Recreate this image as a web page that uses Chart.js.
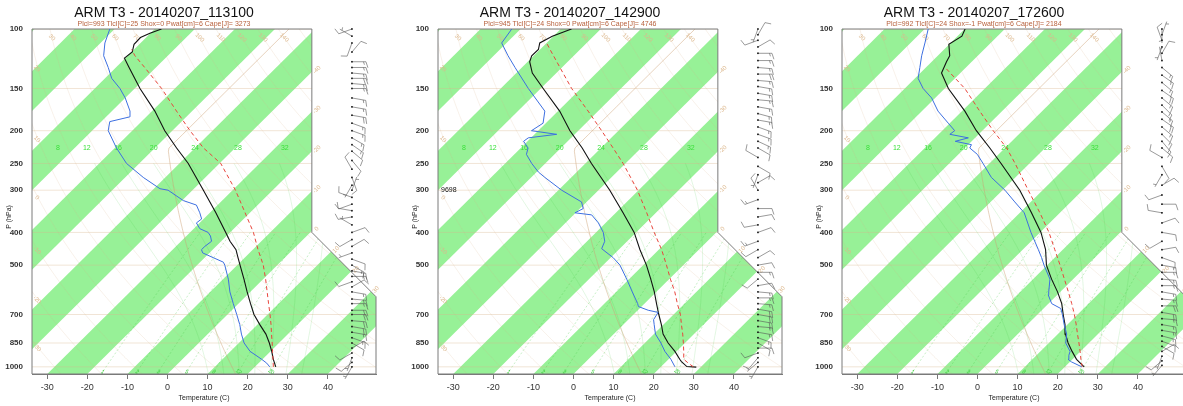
<!DOCTYPE html>
<html>
<head>
<meta charset="utf-8">
<script src="https://cdn.jsdelivr.net/npm/chart.js@4.4.1/dist/chart.umd.min.js"></script>
<style>
body { margin: 0; background: #fff; width: 1183px; height: 406px; overflow: hidden; position: relative; }
canvas { position: absolute; top: 0; }
</style>
</head>
<body>
<canvas id="c1" width="395" height="406" style="left:0px"></canvas>
<canvas id="c2" width="395" height="406" style="left:406px"></canvas>
<canvas id="c3" width="395" height="406" style="left:810px"></canvas>
<script>
// axis ticks
var pTicks = [100, 150, 200, 250, 300, 400, 500, 700, 850, 1000];
var tTicks = [-30, -20, -10, 0, 10, 20, 30, 40];
var mixLines = [1, 2, 3, 5, 8, 12, 20];
var moistLines = [8, 12, 16, 20, 24, 28, 32];
// where the moist adiabat labels sit at 225 hPa (deg C)
var moistLabelT = [-84.2, -77.0, -69.2, -60.3, -50.0, -39.3, -27.6];

var titles = ['ARM T3 - 20140207_113100', 'ARM T3 - 20140207_142900', 'ARM T3 - 20140207_172600'];
var subtitles = ['Plcl=993 Tlcl[C]=25 Shox=0 Pwat[cm]=6 Cape[J]= 3273',
                 'Plcl=945 Tlcl[C]=24 Shox=0 Pwat[cm]=6 Cape[J]= 4746',
                 'Plcl=992 Tlcl[C]=24 Shox=-1 Pwat[cm]=6 Cape[J]= 2184'];

// sounding 1 (11:31)
var tempP1 = [1000,950,900,850,800,750,700,650,600,550,500,475,450,425,400,350,300,250,225,200,175,150,130,122,117,111,106,103,100];
var tempT1 = [25.2,22.7,20.3,17.6,14.5,10.6,6.6,3.0,-0.8,-4.8,-9.3,-11.7,-14.2,-17.8,-21.1,-28.5,-37.3,-47.8,-54.6,-61.9,-69.3,-78.7,-86.7,-90.2,-89.8,-91.3,-91.4,-90.1,-88.3];
var dewP1 = [1000,975,950,925,900,850,800,750,700,650,600,550,500,490,475,460,450,440,425,410,400,390,375,365,350,332,322,300,297,275,250,225,200,188,182,175,160,150,140,130,120,110,100];
var dewT1 = [23.7,22.0,19.8,17.4,14.9,11.3,8.4,5.6,2.3,-1.3,-5.1,-8.7,-13.1,-14.2,-17.9,-21.7,-22.8,-22.8,-22.4,-24.0,-25.5,-28.5,-30.8,-30.5,-32.5,-35.3,-39.7,-46.1,-48.5,-55.5,-63.2,-69.6,-76.0,-77.9,-74.1,-75.5,-80.0,-83.7,-88.3,-91.9,-96.0,-98.9,-101.2];
var parcelP1 = [1000,950,900,850,800,750,700,650,600,550,500,450,400,350,300,250,225,200,175,150,130,120,115];
var parcelT1 = [24.6,22.6,20.5,18.3,15.9,13.4,10.6,7.5,4.2,0.6,-3.5,-8.7,-14.2,-21.2,-29.3,-39.7,-47.9,-55.6,-63.9,-73.3,-82.8,-88.2,-90.6];
var windP1 = [100,105,110,117,125,130,135,140,145,150,160,170,180,190,200,210,220,230,245,260,275,290,300,315,330,345,360,380,400,420,440,460,480,500,520,540,560,580,600,630,650,680,700,730,760,790,820,850,880,910,940,970,1000];
var windDir1 = [250,300,200,40,90,90,95,90,95,90,100,100,100,110,110,120,125,130,140,330,160,210,20,290,250,280,260,300,70,240,60,250,110,120,100,90,250,60,100,95,90,90,90,95,100,100,110,120,60,240,200,230,210];
var windSpd1 = [10,5,10,10,15,15,15,20,15,15,15,15,20,15,15,15,15,10,10,10,10,5,5,10,10,10,10,5,10,10,10,5,10,15,15,15,10,10,15,15,15,20,20,20,20,15,15,10,10,10,5,10,5];

// sounding 2 (14:29)
var tempP2 = [1002,998,965,950,900,850,800,750,700,650,600,550,500,450,400,350,300,250,225,200,175,150,135,125,120,115,110,105,100];
var tempT2 = [28.9,26.4,23.8,22.8,19.6,15.8,12.3,9.5,6.3,3.0,-0.5,-4.6,-9.2,-14.7,-20.5,-28.2,-37.2,-48.5,-54.7,-62.1,-69.6,-79.4,-86.0,-89.5,-90.5,-90.4,-91.7,-90.3,-87.3];
var dewP2 = [1000,950,900,850,800,750,725,690,680,663,650,600,550,500,475,447,425,400,375,355,350,340,325,300,275,265,250,235,225,215,210,205,200,190,175,150,130,120,110,100];
var dewT2 = [23.5,20.6,17.1,14.0,10.4,7.7,6.3,5.6,2.6,-0.8,-1.7,-6.0,-10.6,-15.8,-19.4,-24.5,-25.6,-28.2,-31.8,-35.5,-40.2,-39.2,-41.3,-49.2,-56.6,-59.6,-63.4,-67.0,-68.2,-71.0,-70.7,-64.5,-71.7,-70.7,-73.3,-83.1,-91.7,-96.4,-101.2,-102.2];
var parcelP2 = [1000,975,950,900,850,800,750,700,650,600,550,500,450,400,350,300,250,225,200,175,150,130,115,110];
var parcelT2 = [28.1,25.9,23.8,21.8,19.6,17.2,14.5,11.7,8.2,4.6,0.3,-4.2,-9.3,-15.5,-22.3,-30.3,-40.6,-47.0,-54.2,-62.5,-72.3,-80.5,-87.5,-90.0];
var windP2 = [100,104,108,113,118,124,130,136,142,148,155,162,170,178,186,195,205,215,225,240,255,270,285,300,320,340,360,380,400,425,450,475,500,525,550,575,600,625,650,675,700,730,760,790,820,850,880,910,940,970,1000];
var windDir2 = [200,30,250,60,90,90,95,90,95,100,100,95,100,105,100,110,110,115,120,300,120,200,60,330,250,90,80,260,70,250,240,60,80,90,230,80,95,90,95,100,100,100,95,100,110,120,90,250,220,230,210];
var windSpd2 = [5,10,10,10,15,15,15,20,15,15,15,15,15,15,15,15,15,15,10,10,10,5,10,10,15,10,10,10,10,15,10,10,10,15,10,10,15,15,15,20,20,20,15,15,15,10,10,10,10,5,5];

// sounding 3 (17:26)
var tempP3 = [1000,950,900,850,800,750,700,650,600,550,500,450,400,350,300,250,225,200,175,150,135,125,120,111,105,100];
var tempT3 = [24.8,21.0,17.9,14.8,11.9,9.4,6.4,3.3,-0.7,-5.4,-10.2,-14.3,-19.8,-27.1,-35.7,-47.1,-53.8,-61.5,-69.3,-79.1,-84.7,-86.3,-87.0,-90.1,-88.9,-89.9];
var dewP3 = [1000,967,950,925,900,850,800,750,700,672,650,612,600,550,500,475,450,400,350,325,300,275,250,235,225,220,215,210,205,200,190,175,160,150,140,130,120,110,100];
var dewT3 = [24.2,20.4,18.9,18.1,17.4,14.2,12.2,9.2,6.2,4.3,0.8,-2.3,-2.9,-5.8,-10.8,-13.3,-16.1,-22.3,-28.9,-34.0,-39.4,-46.0,-51.6,-55.3,-58.8,-59.2,-64.1,-61.7,-67.2,-66.9,-70.4,-76.0,-80.9,-85.4,-89.2,-91.5,-94.0,-96.4,-99.1];
var parcelP3 = [1000,950,900,850,800,750,700,650,600,550,500,450,400,350,300,250,225,200,175,150,130];
var parcelT3 = [24.3,22.1,19.9,17.5,14.9,12.2,9.2,5.8,2.0,-2.2,-6.8,-12.0,-17.8,-25.0,-33.6,-43.6,-49.6,-57.3,-65.6,-75.0,-85.2];
var windP3 = [100,104,108,113,118,124,130,137,144,152,160,168,176,185,195,205,215,225,240,255,270,290,310,330,350,375,400,425,450,475,500,525,550,575,600,630,660,690,720,750,780,810,840,870,900,930,960,990];
var windDir3 = [180,20,340,200,30,350,130,125,130,125,130,135,130,125,130,135,140,130,300,150,210,60,250,90,280,70,100,240,80,110,100,90,95,90,100,95,90,100,95,100,100,105,110,120,60,200,230,220];
var windSpd3 = [5,5,10,5,10,5,15,15,15,20,15,15,15,20,15,15,15,10,10,10,5,10,10,10,10,10,10,10,10,10,15,15,15,15,15,15,20,20,15,15,15,15,10,10,10,5,10,5];

var notes2 = [{p: 300, text: '9698'}];

// skew-T geometry
var SKEW = 85, P_BOT = 1050, P_TOP = 100;
var X_MIN = -33.8, X_MAX = 52, X_TOP = 36, P_KNEE1 = 400, P_KNEE2 = 620, BARB_X = 46;
var FONT = '"Liberation Sans", Arial, Helvetica, sans-serif';
var TAN_TXT = '#dcb78c';

function skewX(t, p) { return t + SKEW * Math.log10(P_BOT / p); }
function rightEdge(p) {
  if (p <= P_KNEE1) return X_TOP;
  if (p >= P_KNEE2) return X_MAX;
  var f = Math.log(p / P_KNEE1) / Math.log(P_KNEE2 / P_KNEE1);
  return X_TOP + f * (X_MAX - X_TOP);
}
function series(ps, ts) {
  return ps.map(function (p, i) { return {x: skewX(ts[i], p), y: p}; });
}
function esat(tc) { return 6.112 * Math.exp(17.67 * tc / (tc + 243.5)); }
function dryT(thc, p) { return (thc + 273.15) * Math.pow(p / 1000, 0.2857) - 273.15; }
function stdAtmT(p) { return p >= 226.32 ? 288.15 * Math.pow(p / 1013.25, 0.190263) - 273.15 : -56.5; }
function mixTd(w, p) {
  var e = p * w / (622 + w), l = Math.log(e / 6.112);
  return 243.5 * l / (17.67 - l);
}
function moistPath(tw) {
  function dT(T, p, dp) {
    var es = esat(T - 273.15), rs = 0.622 * es / (p - es);
    var num = 287.04 * T + 2.501e6 * rs;
    var den = 1005.7 + 2.501e6 * 2.501e6 * rs * 0.622 / (287.04 * T * T);
    return num / den * dp / p;
  }
  var down = [], up = [[tw, 1000]];
  var T = tw + 273.15, p = 1000;
  while (p < P_BOT) { T += dT(T, p, 5); p += 5; down.push([T - 273.15, p]); }
  T = tw + 273.15; p = 1000;
  while (p > 250) { T += dT(T, p, -5); p -= 5; up.push([T - 273.15, p]); }
  return down.reverse().concat(up);
}

function drawBarb(ctx, x, y, dir, spd) {
  var a = dir * Math.PI / 180, dx = Math.sin(a), dy = -Math.cos(a);
  var L = 14, px = -dy, py = dx;
  ctx.beginPath();
  ctx.moveTo(x, y);
  ctx.lineTo(x + dx * L, y + dy * L);
  var n = Math.round(spd / 5), full = Math.floor(n / 2), pos = L;
  for (var i = 0; i < full; i++) {
    var bx = x + dx * pos, by = y + dy * pos;
    ctx.moveTo(bx, by);
    ctx.lineTo(bx + px * 6 + dx * 2, by + py * 6 + dy * 2);
    pos -= 2.5;
  }
  if (n % 2) {
    if (full === 0) pos -= 2.5;
    var hx = x + dx * pos, hy = y + dy * pos;
    ctx.moveTo(hx, hy);
    ctx.lineTo(hx + px * 3 + dx * 1, hy + py * 3 + dy * 1);
  }
  ctx.stroke();
  ctx.fillRect(x - 0.8, y - 0.8, 1.6, 1.6);
}

function makeChart(id, s) {
  var bgPlugin = {
    id: 'skewbg',
    beforeDatasetsDraw: function (chart) {
      var ctx = chart.ctx, xs = chart.scales.x, ys = chart.scales.y;
      function X(t, p) { return xs.getPixelForValue(skewX(t, p)); }
      function Y(p) { return ys.getPixelForValue(p); }
      function curve(pts) {
        ctx.beginPath();
        pts.forEach(function (q, i) {
          var x = X(q[0], q[1]), y = Y(q[1]);
          if (i) ctx.lineTo(x, y); else ctx.moveTo(x, y);
        });
        ctx.stroke();
      }
      function outline() {
        ctx.beginPath();
        ctx.moveTo(xs.getPixelForValue(X_MIN), Y(P_TOP));
        ctx.lineTo(xs.getPixelForValue(X_TOP), Y(P_TOP));
        ctx.lineTo(xs.getPixelForValue(X_TOP), Y(P_KNEE1));
        ctx.lineTo(xs.getPixelForValue(X_MAX), Y(P_KNEE2));
        ctx.lineTo(xs.getPixelForValue(X_MAX), Y(P_BOT));
        ctx.lineTo(xs.getPixelForValue(X_MIN), Y(P_BOT));
        ctx.closePath();
      }
      ctx.save();
      outline();
      ctx.clip();
      // isotherm bands
      ctx.fillStyle = '#97f197';
      for (var t0 = -150; t0 <= 30; t0 += 20) {
        ctx.beginPath();
        ctx.moveTo(X(t0, P_BOT), Y(P_BOT));
        ctx.lineTo(X(t0 + 10, P_BOT), Y(P_BOT));
        ctx.lineTo(X(t0 + 10, P_TOP), Y(P_TOP));
        ctx.lineTo(X(t0, P_TOP), Y(P_TOP));
        ctx.closePath();
        ctx.fill();
      }
      // isobars
      ctx.strokeStyle = 'rgba(215,180,140,0.45)'; ctx.lineWidth = 0.8;
      pTicks.forEach(function (p) {
        ctx.beginPath();
        ctx.moveTo(xs.getPixelForValue(X_MIN), Y(p));
        ctx.lineTo(xs.getPixelForValue(X_MAX), Y(p));
        ctx.stroke();
      });
      // dry adiabats
      ctx.strokeStyle = 'rgba(215,180,140,0.3)'; ctx.lineWidth = 0.6;
      for (var th = -50; th <= 170; th += 10) {
        var pts = [];
        for (var p = P_BOT; p >= P_TOP; p -= 10) pts.push([dryT(th, p), p]);
        curve(pts);
      }
      // moist adiabats
      ctx.strokeStyle = 'rgba(70,200,70,0.25)'; ctx.lineWidth = 0.6;
      moistLines.forEach(function (tw) { curve(moistPath(tw)); });
      // mixing ratio lines
      ctx.strokeStyle = 'rgba(70,200,70,0.5)'; ctx.setLineDash([2, 2]);
      mixLines.forEach(function (w) {
        var pts = [];
        for (var p = P_BOT; p >= 400; p -= 10) pts.push([mixTd(w, p), p]);
        curve(pts);
      });
      ctx.setLineDash([]);
      // standard atmosphere
      ctx.strokeStyle = 'rgba(205,160,115,0.6)'; ctx.lineWidth = 0.8;
      var sp = [];
      for (var p2 = P_BOT; p2 >= P_TOP; p2 -= 5) sp.push([stdAtmT(p2), p2]);
      curve(sp);
      ctx.restore();

      // labels
      ctx.save();
      ctx.textAlign = 'center'; ctx.textBaseline = 'middle';
      ctx.fillStyle = TAN_TXT; ctx.font = '6px ' + FONT;
      function rotText(txt, x, y, ang) {
        ctx.save(); ctx.translate(x, y); ctx.rotate(ang); ctx.fillText(txt, 0, 0); ctx.restore();
      }
      for (var th2 = -50; th2 <= 170; th2 += 10) {
        var xt = skewX(dryT(th2, 106), 106);
        if (xt > X_MIN + 2 && xt < X_TOP - 2) {
          rotText(String(th2), xs.getPixelForValue(xt), Y(106), Math.PI / 4);
        } else if (xt <= X_MIN + 2) {
          var lo = 106, hi = 1040;
          for (var k = 0; k < 40; k++) {
            var mid = Math.sqrt(lo * hi);
            if (skewX(dryT(th2, mid), mid) < X_MIN + 1.5) lo = mid; else hi = mid;
          }
          if (hi < 1030) rotText(String(th2), xs.getPixelForValue(X_MIN) + 5, Y(hi), Math.PI / 4);
        }
      }
      // isotherm labels on the right edge
      for (var ti = -40; ti <= 30; ti += 10) {
        var a = 105, b = P_BOT;
        for (var j = 0; j < 40; j++) {
          var m = Math.sqrt(a * b);
          if (skewX(ti, m) > rightEdge(m)) a = m; else b = m;
        }
        if (b > 110 && b < 1000) rotText(String(ti), xs.getPixelForValue(rightEdge(b)) + 5, Y(b) - 2, -Math.PI / 4);
      }
      // moist adiabat labels
      ctx.fillStyle = '#3be03b'; ctx.font = '7px ' + FONT;
      moistLines.forEach(function (tw, i) {
        ctx.fillText(String(tw), X(moistLabelT[i], 225), Y(225));
      });
      // mixing ratio labels
      ctx.font = '5.5px ' + FONT; ctx.fillStyle = '#3cd03c';
      mixLines.forEach(function (w) {
        rotText(String(w), X(mixTd(w, 1035), 1035), Y(1035), Math.PI / 5);
      });
      if (s.notes) {
        ctx.fillStyle = '#111'; ctx.font = '7px ' + FONT; ctx.textAlign = 'left';
        s.notes.forEach(function (n) { ctx.fillText(n.text, xs.getPixelForValue(X_MIN) + 3, Y(n.p)); });
      }
      ctx.restore();

      // outline
      ctx.save();
      ctx.strokeStyle = '#7a7a7a'; ctx.lineWidth = 1;
      outline();
      ctx.stroke();
      ctx.restore();
    },
    afterDatasetsDraw: function (chart) {
      var ctx = chart.ctx, xs = chart.scales.x, ys = chart.scales.y;
      ctx.save();
      ctx.strokeStyle = '#555'; ctx.fillStyle = '#111'; ctx.lineWidth = 0.6;
      var bx = xs.getPixelForValue(BARB_X);
      s.windP.forEach(function (p, i) {
        drawBarb(ctx, bx, ys.getPixelForValue(p), s.windDir[i], s.windSpd[i]);
      });
      ctx.restore();
    },
    afterDraw: function (chart) {
      var ctx = chart.ctx, area = chart.chartArea;
      ctx.save();
      ctx.textAlign = 'center';
      ctx.fillStyle = '#111';
      ctx.font = '14px ' + FONT;
      ctx.textBaseline = 'alphabetic';
      ctx.fillText(s.title, 164, 17);
      ctx.fillStyle = '#b8613d';
      ctx.font = '7px ' + FONT;
      ctx.fillText(s.subtitle, 164, 26);
      ctx.fillStyle = '#222';
      ctx.font = '7px ' + FONT;
      ctx.textBaseline = 'middle';
      ctx.fillText('Temperature (C)', (area.left + area.right) / 2, 398);
      ctx.translate(9, 217);
      ctx.rotate(-Math.PI / 2);
      ctx.fillText('P (hPa)', 0, 0);
      ctx.restore();
    }
  };

  return new Chart(document.getElementById(id), {
    type: 'scatter',
    data: {
      datasets: [
        {data: series(s.dewP, s.dewT), showLine: true, borderColor: '#3d6fe0', borderWidth: 1, pointRadius: 0},
        {data: series(s.parcelP, s.parcelT), showLine: true, borderColor: '#e8453c', borderWidth: 1, borderDash: [4, 3], pointRadius: 0},
        {data: series(s.tempP, s.tempT), showLine: true, borderColor: '#111', borderWidth: 1.1, pointRadius: 0}
      ]
    },
    options: {
      responsive: false,
      animation: false,
      devicePixelRatio: 1,
      layout: {padding: {top: 29, right: 19, left: 0, bottom: 0}},
      plugins: {legend: {display: false}, tooltip: {enabled: false}},
      scales: {
        x: {
          type: 'linear', min: X_MIN, max: X_MAX,
          afterBuildTicks: function (sc) { sc.ticks = tTicks.map(function (v) { return {value: v}; }); },
          afterFit: function (sc) { sc.height = 32; },
          ticks: {font: {size: 9, family: FONT}, color: '#333', padding: 3, maxRotation: 0, autoSkip: false},
          grid: {display: true, drawOnChartArea: false, drawTicks: true, tickLength: 5, color: '#777'},
          border: {display: true, color: '#7a7a7a'}
        },
        y: {
          type: 'logarithmic', reverse: true, min: P_TOP, max: P_BOT,
          afterBuildTicks: function (sc) { sc.ticks = pTicks.map(function (v) { return {value: v}; }); },
          afterFit: function (sc) { sc.width = 32; },
          ticks: {callback: function (v) { return String(v); }, font: {size: 8, weight: 'bold', family: FONT}, color: '#333', padding: 9, autoSkip: false},
          grid: {display: false, drawTicks: false},
          border: {display: false}
        }
      }
    },
    plugins: [bgPlugin]
  });
}

makeChart('c1', {title: titles[0], subtitle: subtitles[0], tempP: tempP1, tempT: tempT1, dewP: dewP1, dewT: dewT1,
  parcelP: parcelP1, parcelT: parcelT1, windP: windP1, windDir: windDir1, windSpd: windSpd1});
makeChart('c2', {title: titles[1], subtitle: subtitles[1], tempP: tempP2, tempT: tempT2, dewP: dewP2, dewT: dewT2,
  parcelP: parcelP2, parcelT: parcelT2, windP: windP2, windDir: windDir2, windSpd: windSpd2, notes: notes2});
makeChart('c3', {title: titles[2], subtitle: subtitles[2], tempP: tempP3, tempT: tempT3, dewP: dewP3, dewT: dewT3,
  parcelP: parcelP3, parcelT: parcelT3, windP: windP3, windDir: windDir3, windSpd: windSpd3});
</script>
</body>
</html>
